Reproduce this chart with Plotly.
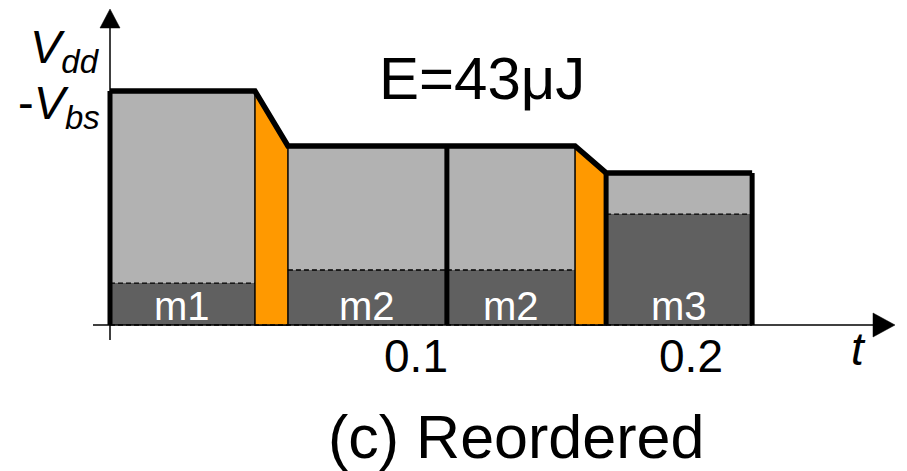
import plotly.graph_objects as go

# Operating schedule: one block per mode, with voltage transitions in between
modes = ["m1", "m2", "m2", "m3"]
block_start = [0.0, 0.0647, 0.1225, 0.1804]      # s
block_end = [0.0527, 0.1225, 0.1691, 0.2335]     # s
supply_level = [1.0, 0.765, 0.765, 0.650]        # Vdd - Vbs (normalized)
core_level = [0.179, 0.235, 0.235, 0.474]        # lower (dark) share of each block
heavy_left = [True, False, True, True]           # blocks drawn with a heavy left edge
tick_vals = [0.1, 0.2]
tick_text = ["0.1", "0.2"]
energy_label = "E=43\u03bcJ"
caption = "(c) Reordered"

W, H = 907, 471
PX_X = 2750.0   # pixels per second
PX_Y = 234.0    # pixels per unit level
X0_PX, Y0_PX = 110, 325

def dx(px):
    return px / PX_X

def dy(px):
    return px / PX_Y

FONT = "Liberation Sans, Arial, sans-serif"
LIGHT = "#b2b2b2"
DARK = "#606060"
ORANGE = "#ff9900"

fig = go.Figure()

t_end = block_end[-1]

# x axis line (drawn below the blocks)
fig.add_trace(go.Scatter(x=[-dx(17), dx(895 - X0_PX) - dx(20)], y=[0, 0], mode="lines",
                         line=dict(color="black", width=1.5), hoverinfo="skip", showlegend=False))

centers = [(s + e) / 2 for s, e in zip(block_start, block_end)]
widths = [e - s for s, e in zip(block_start, block_end)]

fig.add_trace(go.Bar(x=centers, y=core_level, width=widths, base=[0] * len(modes),
                     marker=dict(color=DARK, line=dict(width=0)), showlegend=False,
                     hoverinfo="skip"))
fig.add_trace(go.Bar(x=centers, y=[s - c for s, c in zip(supply_level, core_level)],
                     width=widths, base=core_level,
                     marker=dict(color=LIGHT, line=dict(width=0)), showlegend=False,
                     hoverinfo="skip"))

# voltage transitions between consecutive blocks
for i in range(len(modes) - 1):
    if block_start[i + 1] > block_end[i] + 1e-9:
        xs = [block_end[i], block_end[i], block_start[i + 1], block_start[i + 1], block_end[i]]
        ys = [0, supply_level[i], supply_level[i + 1], 0, 0]
        fig.add_trace(go.Scatter(x=xs, y=ys, mode="lines", fill="toself", fillcolor=ORANGE,
                                 line=dict(color="black", width=1.5), hoverinfo="skip",
                                 showlegend=False))

# dashed boundaries: core share of each block and the baseline
for s, e, c in zip(block_start, block_end, core_level):
    fig.add_trace(go.Scatter(x=[s, e], y=[c, c], mode="lines",
                             line=dict(color="black", width=1.3, dash="5px,3px"),
                             hoverinfo="skip", showlegend=False))
fig.add_trace(go.Scatter(x=[block_start[0], t_end], y=[0, 0], mode="lines",
                         line=dict(color="black", width=1.5, dash="5px,3px"),
                         hoverinfo="skip", showlegend=False))

# heavy supply profile
px_, py_ = [], []
for i in range(len(modes)):
    px_ += [block_start[i], block_end[i]]
    py_ += [supply_level[i], supply_level[i]]
fig.add_trace(go.Scatter(x=px_, y=py_, mode="lines", line=dict(color="black", width=5.5),
                         hoverinfo="skip", showlegend=False))
vx, vy = [], []
for i in range(len(modes)):
    if heavy_left[i]:
        vx += [block_start[i], block_start[i], None]
        vy += [0, supply_level[i], None]
vx += [t_end, t_end]
vy += [0, supply_level[-1]]
fig.add_trace(go.Scatter(x=vx, y=vy, mode="lines", line=dict(color="black", width=5),
                         hoverinfo="skip", showlegend=False))

shapes = [
    # y axis with arrow
    dict(type="line", x0=0, x1=0, y0=-dy(15), y1=dy(Y0_PX - 28), line=dict(color="black", width=1.5)),
    dict(type="path", path=f"M {-dx(10)},{dy(Y0_PX - 28)} L {dx(10)},{dy(Y0_PX - 28)} L 0,{dy(Y0_PX - 9)} Z",
         fillcolor="black", line=dict(color="black", width=0.5)),
    # x axis arrow head
    dict(type="path", path=f"M {dx(873 - X0_PX)},{dy(12)} L {dx(873 - X0_PX)},{-dy(12)} L {dx(895 - X0_PX)},0 Z",
         fillcolor="black", line=dict(color="black", width=0.5)),
]

# mode names sit on the baseline of each block
annotations = [
    dict(x=c, y=0, xref="x", yref="y", xanchor="center", yanchor="bottom", yshift=-5,
         text=m, showarrow=False, font=dict(family=FONT, size=40, color="white"))
    for c, m in zip(centers, modes)
]

annotations += [
    dict(x=dx(102 - X0_PX), y=dy(Y0_PX - 50), xref="x", yref="y", xanchor="right", yanchor="middle",
         text="<i>V</i><sub><i>dd</i></sub>", showarrow=False,
         font=dict(family=FONT, size=47, color="black")),
    dict(x=dx(102 - X0_PX), y=dy(Y0_PX - 106), xref="x", yref="y", xanchor="right", yanchor="middle",
         text="-<i>V</i><sub><i>bs</i></sub>", showarrow=False,
         font=dict(family=FONT, size=47, color="black")),
    dict(x=dx(377 - X0_PX), y=dy(Y0_PX - 78), xref="x", yref="y", xanchor="left", yanchor="middle",
         text=energy_label, showarrow=False, font=dict(family=FONT, size=60, color="black")),
    dict(x=dx(858 - X0_PX), y=dy(Y0_PX - 349), xref="x", yref="y", xanchor="center", yanchor="middle",
         text="<i>t</i>", showarrow=False, font=dict(family=FONT, size=46, color="black")),
    dict(x=dx(516 - X0_PX), y=dy(Y0_PX - 437), xref="x", yref="y", xanchor="center", yanchor="middle",
         text=caption, showarrow=False, font=dict(family=FONT, size=61, color="black")),
]

fig.update_layout(
    width=W, height=H, margin=dict(l=0, r=0, t=0, b=0),
    paper_bgcolor="white", plot_bgcolor="white",
    barmode="overlay", bargap=0, showlegend=False,
    shapes=shapes, annotations=annotations,
    xaxis=dict(range=[-dx(X0_PX), dx(W - X0_PX)], domain=[0, 1], anchor="free",
               position=(H - Y0_PX) / H, showgrid=False, zeroline=False, showline=False,
               ticks="", tickvals=tick_vals, ticktext=tick_text, ticklabelshift=31,
               tickfont=dict(family=FONT, size=46, color="black"), fixedrange=True),
    yaxis=dict(range=[-dy(H - Y0_PX), dy(Y0_PX)], domain=[0, 1], visible=False,
               fixedrange=True),
)

fig.write_html("out.html")
